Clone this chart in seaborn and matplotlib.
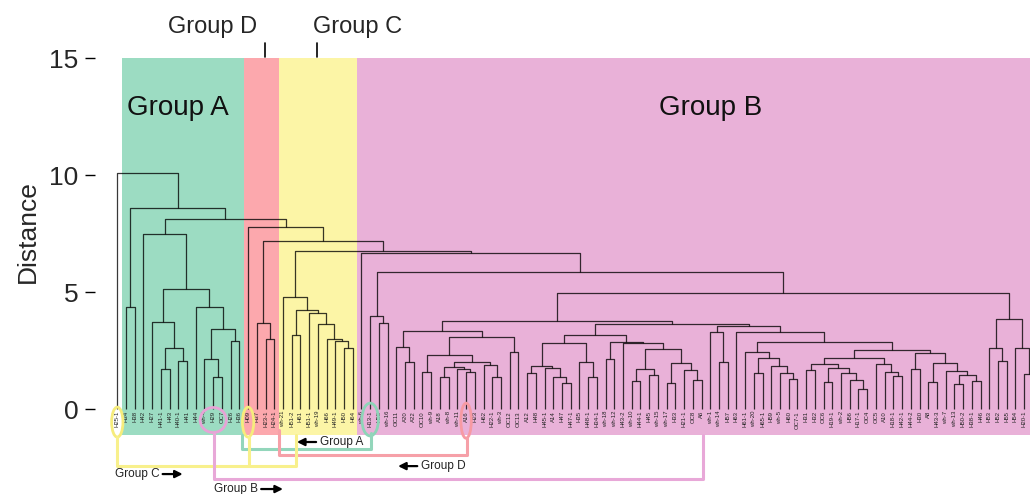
import matplotlib
matplotlib.use("Agg")
import matplotlib.pyplot as plt
from matplotlib.patches import Ellipse
import seaborn as sns

sns.set_theme(style="white")
plt.rcParams["font.family"] = ["Liberation Sans", "DejaVu Sans"]

# ---- leaf labels, in dendrogram order ----
leaf_labels = [
    "H25-1", "H34", "H38", "H42", "H27", "H41-1", "H43", "H40-1", "H41", "H44",
    "wh-4", "H29", "OC7", "H26", "H36", "H09", "H37", "H23-1", "H24-1", "wh-21",
    "H51-2", "H61", "H51-1", "wh-19", "H66", "H49-1", "H50", "H64", "wh-6", "H13-1",
    "H58", "wh-16", "OC11", "A20", "A22", "OC10", "wh-9", "A18", "wh-8", "wh-11",
    "A16", "H23", "H62", "H22-1", "wh-3", "OC12", "OC13", "A12", "H48", "H45-1",
    "A14", "H47", "H47-1", "H35", "H48-1", "H34-1", "wh-18", "wh-12", "H43-2", "wh-10",
    "H44-1", "H45", "wh-15", "wh-17", "H33", "H21-1", "OC8", "A6", "wh-1", "wh-14",
    "H57", "H63", "H61-1", "wh-20", "H65-1", "H59", "wh-5", "H60", "OC7-1", "H31",
    "H32", "OC6", "H19-1", "wh-2", "H56", "H17-1", "OC4", "OC5", "A10", "H18-1",
    "H42-1", "H44-2", "H30", "A8", "H43-3", "wh-7", "wh-13", "H50-2", "H38-1", "H46",
    "H53", "H52", "H55", "H54", "H20-1", "H39",
]

# ---- clusters: [merge distance, left, right]; ints are leaf indices ----
group_a_pair = [4.35, 1, 2]
group_a_core = [7.50, 3,
                [5.13,
                 [3.70, 4, [2.59, [1.72, 5, 6], [2.05, 7, 8]]],
                 [4.36, 9, [3.40, [2.12, 10, [1.38, 11, 12]], [2.92, 13, 14]]]]]

group_d_tree = [3.66, 16, [2.98, 17, 18]]

group_c_tree = [4.79, 19,
                [4.23, [3.16, 20, 21],
                 [4.09, 22, [3.63, 23, [3.00, 24, [2.92, 25, [2.59, 26, 27]]]]]]]

group_b_head = [3.99, 29, [3.69, 30, 31]]
group_b_p = [3.35,
             [2.63, 32, [2.02, 33, 34]],
             [3.09,
              [2.29, [1.57, 35, 36],
               [2.00, [1.78, [1.35, 37, 38], [1.70, 39, [1.60, 40, 41]]],
                [1.88, 42, [1.37, 43, 44]]]],
              [2.44, 45, 46]]]
group_b_n = [3.15,
             [2.80,
              [1.85, [1.55, 47, 48], [1.77, 49, [1.38, 50, [1.12, 51, 52]]]],
              [2.02, 53, [1.37, 54, 55]]],
             [2.88, [2.12, 56, 57],
              [2.81, 58,
               [2.55, [1.70, [1.21, 59, 60], [1.47, 61, 62]],
                [1.95, [1.10, 63, 64], [1.67, 65, [1.24, 66, 67]]]]]]]
group_b_m = [3.56,
             [3.29, 68, [2.02, 69, 70]],
             [3.30, 71,
              [2.85,
               [2.42, 72, [2.19, [1.55, 73, 74],
                           [1.82, 75, [1.55, 76, [1.30, 77, 78]]]]],
               [2.52,
                [2.16,
                 [1.91, [1.67, 79, 80],
                  [1.74, [1.14, 81, 82], [1.55, 83, [1.24, 84, [0.87, 85, 86]]]]],
                 [1.91, 87, [1.57, 88, [1.41, 89, 90]]]],
                [2.38, [1.70, 91, 92],
                 [1.95, [1.14, 93, 94],
                  [1.62, 95, [1.45, [1.07, 96, 97], [1.21, 98, 99]]]]]]]]]
group_b_q = [3.83, [2.59, 100, [2.06, 101, 102]], [2.59, 103, [1.50, 104, 105]]]

group_b_tree = [6.68, 28,
                [5.87, group_b_head,
                 [4.94, [3.76, group_b_p, [3.62, group_b_n, group_b_m]], group_b_q]]]

tree = [10.10, 0,
        [8.60, group_a_pair,
         [8.13, group_a_core,
          [7.79, 15,
           [7.18, group_d_tree, [6.77, group_c_tree, group_b_tree]]]]]]

# ---- shaded groups: (first edge, last edge, colour) ----
group_spans = [(0.5, 14.5, "#9cdcc2"), (14.5, 18.5, "#fca8ad"),
               (18.5, 27.5, "#fcf5a6"), (27.5, 110, "#e9b1d8")]

X_MIN, X_MAX = -2.557, 104.67

fig = plt.figure(figsize=(10.3, 4.94), dpi=100)
ax = fig.add_axes([95 / 1030, 0, 935 / 1030, 436 / 494])
ax.set_xlim(X_MIN, X_MAX)
ax.set_ylim(-3.632, 15)

for x0, x1, col in group_spans:
    ax.fill_between([x0, x1], -1.1, 15, color=col, lw=0, zorder=0)

line_kw = dict(color="black", alpha=0.78, lw=0.9, zorder=2, solid_capstyle="butt")


def draw(node):
    """Draw a cluster; return (x position, height) of its top."""
    if isinstance(node, int):
        return float(node), 0.0
    h, left, right = node
    xl, hl = draw(left)
    xr, hr = draw(right)
    ax.plot([xl, xl, xr, xr], [hl, h, h, hr], **line_kw)
    return (xl + xr) / 2, h


draw(tree)

# labels for the leaves that fall inside the plotted range
for i, lab in enumerate(leaf_labels):
    if i + 0.3 < X_MAX:
        ax.text(i, -0.08, lab, rotation=90, ha="center", va="top",
                fontsize=4.3, color="#222222", zorder=3)

# ---- circled samples and connectors ----
ell = [(0, -0.56, 1.3, 1.28, "#f6ec7c"), (15, -0.56, 1.3, 1.28, "#f6ec7c"),
       (11, -0.47, 3.0, 1.07, "#e7a3d6"), (29, -0.45, 1.9, 1.4, "#8ed4b8"),
       (40, -0.5, 1.2, 1.5, "#f79aa3")]
for cx, cy, w, h, c in ell:
    ax.add_patch(Ellipse((cx, cy), w, h, fill=False, ec=c, lw=2.0, zorder=4))

ax.plot([14.27, 14.27, 29.1, 29.1], [-1.11, -1.71, -1.71, -1.03],
        color="#93d6bb", lw=2.2, zorder=4)
ax.plot([18.5, 18.5, 40.1, 40.1], [-0.9, -1.97, -1.97, -1.25],
        color="#f6a0a8", lw=2.2, zorder=4)
ax.plot([0, 0, 20.5, 20.5], [-1.2, -2.44, -2.44, -1.1],
        color="#f8f08c", lw=2.2, zorder=4)
ax.plot([15.1, 15.1], [-1.2, -2.44], color="#f8f08c", lw=2.2, zorder=4)
ax.plot([11.1, 11.1, 67.2, 67.2], [-1.03, -3.0, -3.0, -1.1],
        color="#e8a8d8", lw=2.2, zorder=4)

small = dict(fontsize=8.5, color="#222222", va="center", ha="left", zorder=5)
arrow_kw = dict(arrowstyle="-|>", color="black", lw=1.6, mutation_scale=11,
                shrinkA=0, shrinkB=0)


def arrow(x_from, x_to, y):
    ax.annotate("", xy=(x_to, y), xytext=(x_from, y), arrowprops=arrow_kw,
                annotation_clip=False, zorder=5)


arrow(22.8, 20.6, -1.41)
ax.text(23.2, -1.41, "Group A", **small)
arrow(34.4, 32.2, -2.44)
ax.text(34.8, -2.44, "Group D", **small)
ax.text(-0.26, -2.78, "Group C", **small)
arrow(5.2, 7.5, -2.78)
ax.text(11.1, -3.42, "Group B", **small)
arrow(16.5, 19.0, -3.42)

ax.text(6.97, 12.86, "Group A", fontsize=20, ha="center", va="center", color="#111111")
ax.text(68.0, 12.86, "Group B", fontsize=20, ha="center", va="center", color="#111111")
ax.text(10.87, 16.32, "Group D", fontsize=17, ha="center", va="center", clip_on=False)
ax.text(27.6, 16.32, "Group C", fontsize=17, ha="center", va="center", clip_on=False)
ax.plot([16.9, 16.9], [15.04, 15.64], color="black", lw=1.2, clip_on=False)
ax.plot([22.9, 22.9], [15.04, 15.64], color="black", lw=1.2, clip_on=False)

# ---- axes styling ----
for s in ["top", "right", "bottom", "left"]:
    ax.spines[s].set_visible(False)
ax.set_xticks([])
ax.set_yticks([0, 5, 10, 15])
ax.tick_params(axis="y", direction="out", length=7, width=1, pad=5,
               labelsize=19, left=True, color="black")
fig.text(28 / 1030, 1 - 232 / 494, "Distance", rotation=90, fontsize=19,
         ha="center", va="center")

fig.savefig("out.png", dpi=100)
